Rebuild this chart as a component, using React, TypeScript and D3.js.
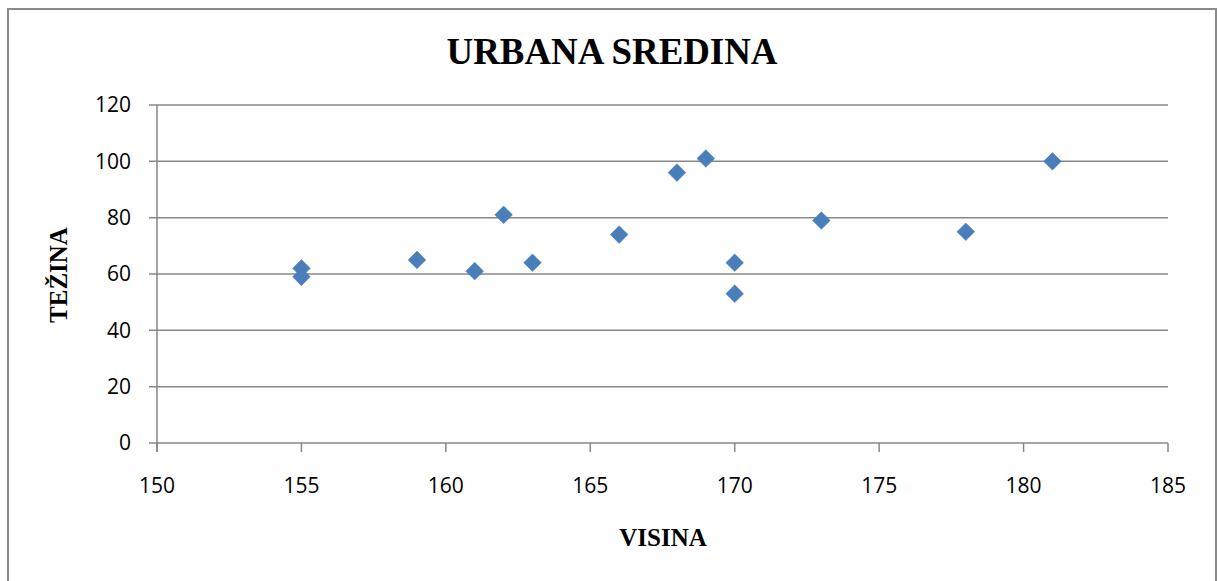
import * as d3 from 'd3';
import React from 'react';

const width = 1217;
const height = 581;
const margin = { top: 105, right: 49, bottom: 138, left: 157 };

// visina (cm) / tezina (kg)
const visina = [155, 155, 159, 161, 162, 163, 166, 168, 169, 170, 170, 173, 178, 181];
const tezina = [62, 59, 65, 61, 81, 64, 74, 96, 101, 64, 53, 79, 75, 100];
const xTicks = [150, 155, 160, 165, 170, 175, 180, 185];
const yTicks = [0, 20, 40, 60, 80, 100, 120];

const gray = '#878787';
const tickFont = '"Open Sans", "Noto Sans", sans-serif';
const serif = '"Liberation Serif", "Times New Roman", serif';

export default function App() {
  const x = d3
    .scaleLinear()
    .domain([150, 185])
    .range([margin.left, width - margin.right]);
  const y = d3
    .scaleLinear()
    .domain([0, 120])
    .range([height - margin.bottom, margin.top]);

  const diamond = d3.symbol().type(d3.symbolDiamond2).size(200);
  const points = visina.map((v, i) => ({ v, t: tezina[i] }));

  return (
    <div style={{ position: 'fixed', left: 0, top: 0 }}>
      <svg width={width} height={height} style={{ display: 'block', background: '#fff' }}>
        {/* chart frame */}
        <rect x={8} y={9} width={1208} height={600} fill="#fff" stroke="#8a8a8a" strokeWidth={2} />

        <text
          x={612}
          y={64}
          textAnchor="middle"
          fontFamily={serif}
          fontWeight="bold"
          fontSize={38}
          textLength={331}
          lengthAdjust="spacingAndGlyphs"
        >
          URBANA SREDINA
        </text>

        {/* horizontal grid */}
        {yTicks.map(t => (
          <g key={t}>
            <line x1={margin.left - 8} x2={x(185)} y1={y(t)} y2={y(t)} stroke={gray} strokeWidth={1.5} />
            <text
              x={131}
              y={y(t)}
              dy="0.35em"
              textAnchor="end"
              fontFamily={tickFont}
              fontSize={21}
              fill="#000"
            >
              {t}
            </text>
          </g>
        ))}

        {/* axes */}
        <line x1={x(150)} x2={x(150)} y1={y(120)} y2={y(0) + 9} stroke={gray} strokeWidth={1.5} />
        {xTicks.map(t => (
          <g key={t}>
            <line x1={x(t)} x2={x(t)} y1={y(0)} y2={y(0) + 9} stroke={gray} strokeWidth={1.5} />
            <text
              x={x(t)}
              y={486}
              dy="0.35em"
              textAnchor="middle"
              fontFamily={tickFont}
              fontSize={21}
              fill="#000"
            >
              {t}
            </text>
          </g>
        ))}

        {points.map((p, i) => (
          <path
            key={i}
            d={diamond() as string}
            transform={`translate(${x(p.v)},${y(p.t)})`}
            fill="#4a7ebb"
            stroke="#4a7ebb"
            strokeWidth={0.5}
          />
        ))}

        <text
          x={663}
          y={546}
          textAnchor="middle"
          fontFamily={serif}
          fontWeight="bold"
          fontSize={25}
        >
          VISINA
        </text>
        <text
          transform="translate(67,275) rotate(-90)"
          textAnchor="middle"
          fontFamily={serif}
          fontWeight="bold"
          fontSize={25}
        >
          TEŽINA
        </text>
      </svg>
    </div>
  );
}
